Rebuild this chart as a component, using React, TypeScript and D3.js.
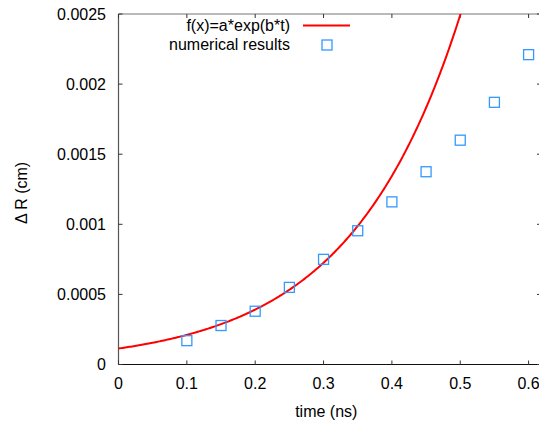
import React from "react";
import * as d3 from "d3";

const times = [0.1, 0.15, 0.2, 0.25, 0.3, 0.35, 0.4, 0.45, 0.5, 0.55, 0.6];
const deltaR = [0.00017, 0.000278, 0.00038, 0.00055, 0.00075, 0.000954, 0.00116, 0.001375, 0.0016, 0.00187, 0.00221];
const xTicks = [0, 0.1, 0.2, 0.3, 0.4, 0.5, 0.6];
const yTicks = [0, 0.0005, 0.001, 0.0015, 0.002, 0.0025];
const yTickLabels = ["0", "0.0005", "0.001", "0.0015", "0.002", "0.0025"];
const fitA = 0.000114;
const fitB = 6.17;
const legendLabels = ["f(x)=a*exp(b*t)", "numerical results"];

const W = 539;
const H = 423;
const left = 118.5;
const top = 14;
const bottom = 364.5;
const right = 541;

export default function App() {
  const x = d3.scaleLinear().domain([0, 0.6]).range([left, left + 6 * 68.35]);
  const y = d3.scaleLinear().domain([0, 0.0025]).range([bottom, top]);
  const fitTs = d3.range(0, 0.62, 0.002);
  const line = d3
    .line<number>()
    .x((t) => x(t))
    .y((t) => y(fitA * Math.exp(fitB * t)));
  const clipped = fitTs.filter((t) => fitA * Math.exp(fitB * t) <= 0.0025 * 1.01);
  const font = "'Liberation Sans', Arial, sans-serif";
  return (
    <svg
      width={W}
      height={H}
      style={{ position: "absolute", left: 0, top: 0, background: "#fff" }}
      fontFamily={font}
    >
      <defs>
        <clipPath id="plotclip">
          <rect x={left} y={top} width={right - left} height={bottom - top} />
        </clipPath>
      </defs>
      {/* frame */}
      <line x1={left} x2={right} y1={top} y2={top} stroke="#777" strokeWidth={1.2} />
      <line x1={right} x2={right} y1={top} y2={bottom} stroke="#777" strokeWidth={1.2} />
      <line x1={left} x2={left} y1={top} y2={bottom} stroke="#555" strokeWidth={1.2} />
      <line x1={left} x2={right} y1={bottom} y2={bottom} stroke="#111" strokeWidth={1.2} />
      {/* x ticks */}
      {xTicks.map((t) => (
        <g key={"x" + t}>
          <line x1={x(t)} x2={x(t)} y1={bottom} y2={bottom - 4} stroke="#333" />
          <line x1={x(t)} x2={x(t)} y1={top} y2={top + 4} stroke="#333" />
          <text x={x(t)} y={389} fontSize={16} textAnchor="middle" fill="#000">
            {String(t)}
          </text>
        </g>
      ))}
      {/* y ticks */}
      {yTicks.map((v, i) => (
        <g key={"y" + v}>
          <line x1={left} x2={left + 4} y1={y(v)} y2={y(v)} stroke="#333" />
          <line x1={right} x2={right - 4} y1={y(v)} y2={y(v)} stroke="#333" />
          <text x={106} y={y(v) + 5.5} fontSize={16} textAnchor="end" fill="#000">
            {yTickLabels[i]}
          </text>
        </g>
      ))}
      {/* axis labels */}
      <text x={(left + 528) / 2 + 3} y={417} fontSize={16} textAnchor="middle" fill="#000">
        time (ns)
      </text>
      <text
        transform={`translate(27,193) rotate(-90)`}
        fontSize={16}
        textAnchor="middle"
        fill="#000"
      >
        Δ R (cm)
      </text>
      {/* fit curve */}
      <g clipPath="url(#plotclip)">
        <path d={line(clipped) || ""} fill="none" stroke="#ff0000" strokeWidth={2} />
      </g>
      {/* points */}
      {times.map((t, i) => (
        <rect
          key={"p" + i}
          x={x(t) - 5}
          y={y(deltaR[i]) - 5}
          width={10}
          height={10}
          fill="none"
          stroke="#3399ff"
          strokeWidth={1.3}
        />
      ))}
      {/* legend */}
      <text x={290} y={31} fontSize={16} textAnchor="end" fill="#000">
        {legendLabels[0]}
      </text>
      <line x1={303} x2={350} y1={25.5} y2={25.5} stroke="#ff0000" strokeWidth={2} />
      <text x={290} y={50} fontSize={16} textAnchor="end" fill="#000">
        {legendLabels[1]}
      </text>
      <rect x={322} y={40} width={10} height={10} fill="none" stroke="#3399ff" strokeWidth={1.3} />
    </svg>
  );
}
